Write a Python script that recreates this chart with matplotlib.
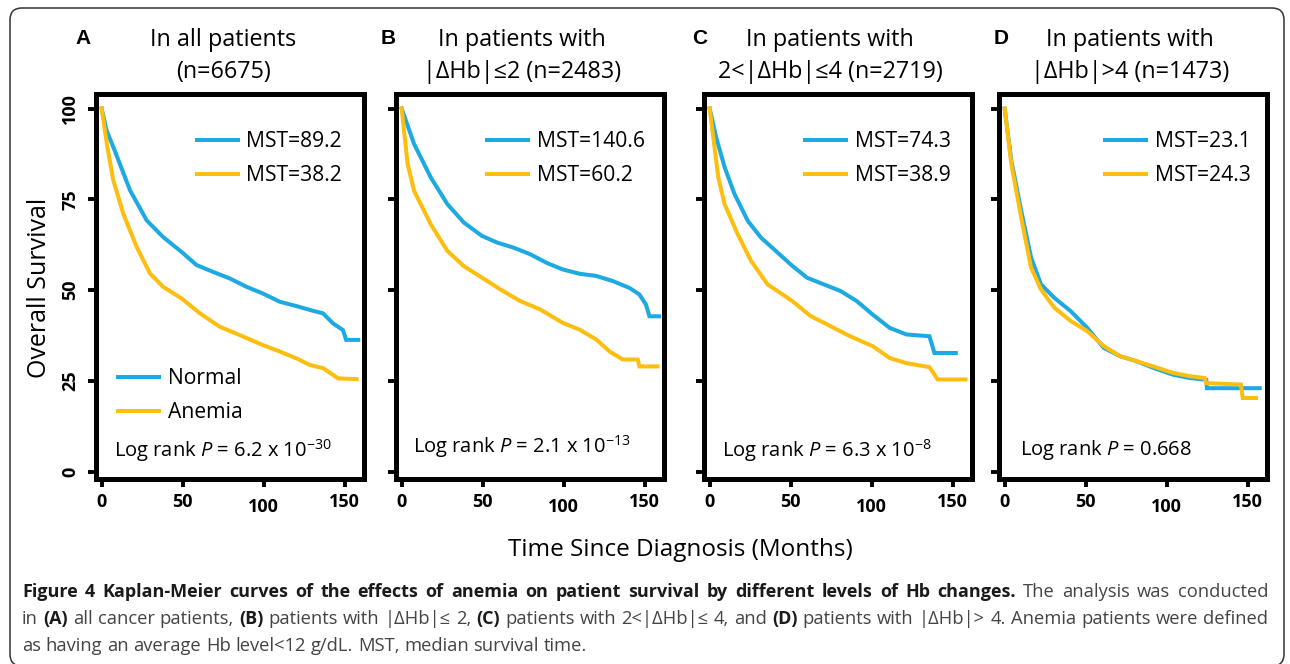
import matplotlib
matplotlib.use("Agg")
import matplotlib.pyplot as plt
from matplotlib.lines import Line2D
from matplotlib.patches import FancyBboxPatch
from matplotlib.transforms import IdentityTransform, ScaledTranslation

plt.rcParams['font.family'] = ['Open Sans', 'DejaVu Sans']
plt.rcParams['mathtext.fontset'] = 'custom'
plt.rcParams['mathtext.rm'] = 'Open Sans'
plt.rcParams['mathtext.it'] = 'Open Sans:italic'
plt.rcParams['mathtext.default'] = 'regular'

BLUE = '#1DA9E1'
GOLD = '#FDBE10'

#%% data (months, % surviving)
t_a_norm = [0, 3, 7.2, 17.5, 27.8, 38, 49.4, 58.6, 68.9, 79.2, 89.5, 99.4, 110, 120.3, 130.6, 136.7, 143, 149, 151, 158.4]
s_a_norm = [100, 94, 89.4, 77.5, 69.2, 64.6, 60.5, 56.9, 55.0, 53.2, 50.9, 49.1, 46.8, 45.6, 44.3, 43.6, 40.8, 39.0, 36.3, 36.3]
t_a_anem = [0, 3.5, 7.2, 13.3, 21.6, 29.8, 38, 49.4, 60.7, 73, 85.4, 99.4, 110, 120.3, 128.6, 136.8, 146, 157.4]
s_a_anem = [100, 89.4, 80.2, 71.1, 61.9, 54.6, 50.9, 47.7, 43.6, 39.9, 37.6, 34.9, 33.1, 31.2, 29.4, 28.5, 25.7, 25.5]

t_b_norm = [0, 7.7, 18, 28.2, 38.4, 49.7, 58.9, 69.1, 79.3, 89.6, 99.4, 110, 120.2, 130.4, 140.7, 146.8, 150.9, 153, 159]
s_b_norm = [100, 90.2, 81.0, 73.7, 68.6, 64.9, 63.1, 61.7, 59.9, 57.5, 55.7, 54.5, 53.9, 52.5, 50.6, 48.8, 46.0, 42.8, 42.8]
t_b_anem = [0, 3.7, 7.7, 18, 28.2, 38.4, 49.7, 60.9, 73.2, 85.5, 99.4, 110, 120.2, 128.4, 136.6, 145.8, 146.8, 158]
s_b_anem = [100, 84.7, 77.3, 68.1, 60.8, 56.6, 53.4, 50.2, 47.0, 44.7, 41.0, 39.1, 36.4, 33.1, 30.9, 30.9, 29.0, 29.0]

t_c_norm = [0, 4, 9.2, 15.3, 23.5, 31.6, 41.8, 51.0, 60.2, 70.4, 80.6, 90.8, 100.6, 111.2, 121.5, 135.7, 138.8, 152]
s_c_norm = [100, 92.1, 83.9, 76.5, 69.1, 64.5, 60.4, 56.7, 53.4, 51.6, 49.8, 47.0, 43.3, 39.6, 37.8, 37.3, 32.7, 32.7]
t_c_anem = [0, 5.3, 9.2, 17.3, 25.5, 35.7, 51.0, 62.2, 74.5, 86.7, 100.6, 111.2, 121.5, 135.7, 140.8, 158]
s_c_anem = [100, 81.1, 73.7, 65.4, 58.1, 51.6, 47.0, 42.9, 40.1, 37.3, 34.6, 31.3, 29.9, 28.8, 25.4, 25.4]

t_d_norm = [0, 4.1, 10.2, 16.3, 22.4, 30.6, 40.8, 51.0, 61.2, 71.4, 81.6, 91.8, 104.1, 114.3, 124.5, 124.9, 157.5]
s_d_norm = [100, 85.7, 71.9, 59.0, 51.6, 47.9, 44.2, 39.6, 34.1, 31.8, 30.4, 28.6, 26.7, 25.8, 25.3, 23.0, 23.0]
t_d_anem = [0, 4.1, 10.2, 16.3, 22.4, 30.6, 40.8, 51.0, 61.2, 71.4, 81.6, 91.8, 104.1, 114.3, 123.5, 124.5, 145.9, 147, 155.3]
s_d_anem = [100, 84.8, 70.0, 56.2, 50.2, 45.2, 41.5, 38.7, 34.6, 31.8, 30.4, 29.0, 27.2, 26.3, 25.8, 24.4, 24.0, 20.3, 20.3]

letters = ['A', 'B', 'C', 'D']
title_1 = ['In all patients', 'In patients with', 'In patients with', 'In patients with']
title_2 = ['(n=6675)', '|ΔHb|≤2 (n=2483)', '2<|ΔHb|≤4 (n=2719)', '|ΔHb|>4 (n=1473)']
mst_norm = ['MST=89.2', 'MST=140.6', 'MST=74.3', 'MST=23.1']
mst_anem = ['MST=38.2', 'MST=60.2', 'MST=38.9', 'MST=24.3']
pvals = [r'Log rank $\it{P}$ = 6.2 x 10$^{-30}$', r'Log rank $\it{P}$ = 2.1 x 10$^{-13}$',
         r'Log rank $\it{P}$ = 6.3 x 10$^{-8}$', r'Log rank $\it{P}$ = 0.668']
yticks = [0, 25, 50, 75, 100]
xticks = [0, 50, 100, 150]

curves = [((t_a_norm, s_a_norm), (t_a_anem, s_a_anem)),
          ((t_b_norm, s_b_norm), (t_b_anem, s_b_anem)),
          ((t_c_norm, s_c_norm), (t_c_anem, s_c_anem)),
          ((t_d_norm, s_d_norm), (t_d_anem, s_d_anem))]

#%% layout (pixels)
W, H = 1290, 664
lefts = [96, 396, 704, 999]
top_px, bot_px, w_px = 94, 479, 268
title_x = [0.474, 0.47, 0.47, 0.489]
letter_x = [83, 388, 700, 1001]
leg_x = [0.376, 0.34, 0.377, 0.396]
p_pos = [(0.067, 0.075), (0.063, 0.084), (0.066, 0.075), (0.078, 0.075)]

fig = plt.figure(figsize=(W / 100, H / 100), dpi=100)

for i in range(4):
    ax = fig.add_axes([lefts[i] / W, 1 - bot_px / H, w_px / W, (bot_px - top_px) / H])
    (tn, sn), (ta, sa) = curves[i]
    ax.plot(tn, sn, color=BLUE, lw=2.9, solid_joinstyle='miter')
    ax.plot(ta, sa, color=GOLD, lw=2.9, solid_joinstyle='miter')
    ax.set_xlim(-3.5, 162)
    ax.set_ylim(-2, 104)
    for sp in ax.spines.values():
        sp.set_linewidth(3.6)
    ax.set_xticks(xticks)
    ax.set_yticks(yticks)
    ax.tick_params(direction='out', length=6, width=2.8, pad=4)
    ax.set_xticklabels([str(x) for x in xticks], fontsize=13, fontweight='bold')
    for lab in ax.get_xticklabels():
        if lab.get_text() == '100':
            lab.set_transform(lab.get_transform() + ScaledTranslation(0, -4 / 72, fig.dpi_scale_trans))
    if i == 0:
        ax.set_yticklabels([str(y) for y in yticks], fontsize=13, fontweight='bold',
                           rotation=90, va='center')
        ax.tick_params(axis='y', pad=6)
    else:
        ax.tick_params(axis='y', labelleft=False)

    h = [Line2D([], [], color=BLUE, lw=2.9), Line2D([], [], color=GOLD, lw=2.9)]
    leg = ax.legend(h, [mst_norm[i], mst_anem[i]], loc='upper left', bbox_to_anchor=(leg_x[i], 0.904),
                    frameon=False, fontsize=15.2, borderpad=0, borderaxespad=0,
                    handlelength=1.95, handletextpad=0.4, labelspacing=0.62)
    if i == 0:
        ax.add_artist(leg)
        ax.legend(h, ['Normal', 'Anemia'], loc='upper left', bbox_to_anchor=(0.082, 0.288),
                  frameon=False, fontsize=15.2, borderpad=0, borderaxespad=0,
                  handlelength=1.95, handletextpad=0.4, labelspacing=0.62)

    ax.text(p_pos[i][0], p_pos[i][1], pvals[i], transform=ax.transAxes, fontsize=14.5,
            ha='left', va='center')
    ax.text(title_x[i], (bot_px - 40) / (bot_px - top_px), title_1[i], transform=ax.transAxes,
            fontsize=16.8, ha='center', va='center')
    ax.text(title_x[i], (bot_px - 72) / (bot_px - top_px), title_2[i], transform=ax.transAxes,
            fontsize=16.8, ha='center', va='center')
    fig.text(letter_x[i] / W, 1 - 38 / H, letters[i], fontsize=15, fontweight='bold',
             family=['Liberation Sans', 'DejaVu Sans'], ha='center', va='center')

fig.text(40 / W, 1 - 288 / H, 'Overall Survival', rotation=90, fontsize=18, ha='center', va='center')
fig.text(680 / W, 1 - 550 / H, 'Time Since Diagnosis (Months)', fontsize=17.5, ha='center', va='center')

#%% caption: justified lines, bold and regular words mixed
caption = [
    [('Figure 4 Kaplan-Meier curves of the effects of anemia on patient survival by different levels of Hb changes.', True),
     ('The analysis was conducted', False)],
    [('in', False), ('(A)', True), ('all cancer patients,', False), ('(B)', True),
     ('patients with |ΔHb|≤ 2,', False), ('(C)', True), ('patients with 2<|ΔHb|≤ 4, and', False),
     ('(D)', True), ('patients with |ΔHb|> 4. Anemia patients were defined', False)],
    [('as having an average Hb level<12 g/dL. MST, median survival time.', False)],
]
justify = [True, True, False]
cap_y = [592, 619, 646]
cap_left, cap_right = 22, 1268
size_reg, size_bold = 13.2, 13.0
renderer = fig.canvas.get_renderer()


def width_px(s, bold):
    kw = dict(fontsize=size_bold if bold else size_reg, fontweight='bold' if bold else 'normal')
    a = fig.text(0, 0, s + 'x', **kw)
    b = fig.text(0, 0, 'x', **kw)
    w = a.get_window_extent(renderer).width - b.get_window_extent(renderer).width
    a.remove()
    b.remove()
    return w


space = width_px(' ', False)
for line, y, just in zip(caption, cap_y, justify):
    words = [(w, bold) for seg, bold in line for w in seg.split(' ')]
    widths = [width_px(w, b) for w, b in words]
    gap = (cap_right - cap_left - sum(widths)) / (len(words) - 1) if just else space
    x = cap_left
    for (w, bold), wd in zip(words, widths):
        fig.text(x / W, 1 - y / H, w, fontsize=size_bold if bold else size_reg,
                 fontweight='bold' if bold else 'normal',
                 color='#1a1a1a' if bold else '#444444', ha='left', va='center')
        x += wd + gap

# outer rounded frame
frame = FancyBboxPatch((10, -2), 1274, 658, boxstyle='round,pad=0,rounding_size=12',
                       transform=IdentityTransform(), fill=False, ec='#333333', lw=1.1)
fig.patches.append(frame)

fig.savefig('out.png', dpi=100)
